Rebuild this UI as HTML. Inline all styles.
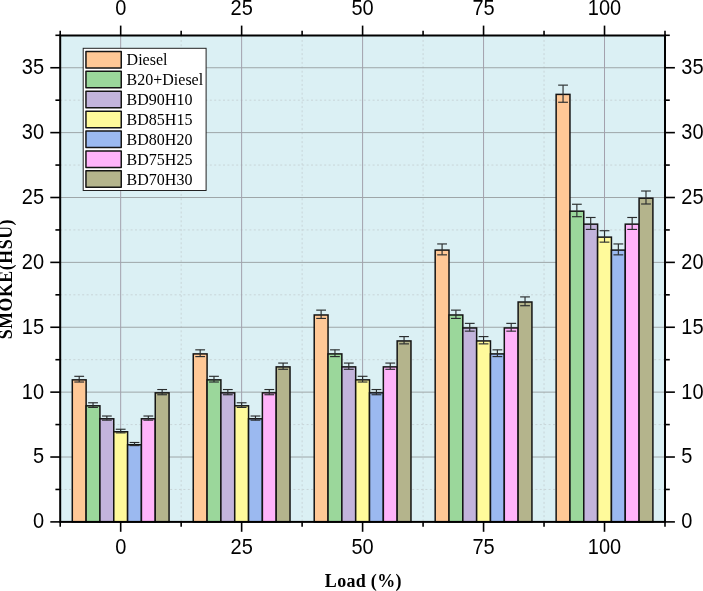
<!DOCTYPE html>
<html><head><meta charset="utf-8"><title>SMOKE chart</title>
<style>html,body{margin:0;padding:0;background:#fff;}body{width:703px;height:591px;overflow:hidden;}svg{display:block;}</style>
</head><body>
<svg width="703" height="591" viewBox="0 0 703 591">
<rect x="0" y="0" width="703" height="591" fill="#ffffff"/>
<rect x="60.2" y="35.5" width="604.80" height="486.40" fill="#DBF0F4"/>
<line x1="60.2" x2="665.0" y1="489.46" y2="489.46" stroke="#C8D5D8" stroke-width="1" stroke-dasharray="2 2.4"/>
<line x1="60.2" x2="665.0" y1="424.58" y2="424.58" stroke="#C8D5D8" stroke-width="1" stroke-dasharray="2 2.4"/>
<line x1="60.2" x2="665.0" y1="359.70" y2="359.70" stroke="#C8D5D8" stroke-width="1" stroke-dasharray="2 2.4"/>
<line x1="60.2" x2="665.0" y1="294.82" y2="294.82" stroke="#C8D5D8" stroke-width="1" stroke-dasharray="2 2.4"/>
<line x1="60.2" x2="665.0" y1="229.94" y2="229.94" stroke="#C8D5D8" stroke-width="1" stroke-dasharray="2 2.4"/>
<line x1="60.2" x2="665.0" y1="165.06" y2="165.06" stroke="#C8D5D8" stroke-width="1" stroke-dasharray="2 2.4"/>
<line x1="60.2" x2="665.0" y1="100.18" y2="100.18" stroke="#C8D5D8" stroke-width="1" stroke-dasharray="2 2.4"/>
<line x1="181.16" x2="181.16" y1="35.5" y2="521.9" stroke="#C8D5D8" stroke-width="1" stroke-dasharray="2 2.4"/>
<line x1="302.12" x2="302.12" y1="35.5" y2="521.9" stroke="#C8D5D8" stroke-width="1" stroke-dasharray="2 2.4"/>
<line x1="423.08" x2="423.08" y1="35.5" y2="521.9" stroke="#C8D5D8" stroke-width="1" stroke-dasharray="2 2.4"/>
<line x1="544.04" x2="544.04" y1="35.5" y2="521.9" stroke="#C8D5D8" stroke-width="1" stroke-dasharray="2 2.4"/>
<line x1="60.2" x2="665.0" y1="457.02" y2="457.02" stroke="#9EA6A8" stroke-width="1"/>
<line x1="60.2" x2="665.0" y1="392.14" y2="392.14" stroke="#9EA6A8" stroke-width="1"/>
<line x1="60.2" x2="665.0" y1="327.26" y2="327.26" stroke="#9EA6A8" stroke-width="1"/>
<line x1="60.2" x2="665.0" y1="262.38" y2="262.38" stroke="#9EA6A8" stroke-width="1"/>
<line x1="60.2" x2="665.0" y1="197.50" y2="197.50" stroke="#9EA6A8" stroke-width="1"/>
<line x1="60.2" x2="665.0" y1="132.62" y2="132.62" stroke="#9EA6A8" stroke-width="1"/>
<line x1="60.2" x2="665.0" y1="67.74" y2="67.74" stroke="#9EA6A8" stroke-width="1"/>
<line x1="120.68" x2="120.68" y1="35.5" y2="521.9" stroke="#A2A0AC" stroke-width="1"/>
<line x1="241.64" x2="241.64" y1="35.5" y2="521.9" stroke="#A2A0AC" stroke-width="1"/>
<line x1="362.60" x2="362.60" y1="35.5" y2="521.9" stroke="#A2A0AC" stroke-width="1"/>
<line x1="483.56" x2="483.56" y1="35.5" y2="521.9" stroke="#A2A0AC" stroke-width="1"/>
<line x1="604.52" x2="604.52" y1="35.5" y2="521.9" stroke="#A2A0AC" stroke-width="1"/>
<rect x="72.30" y="379.86" width="13.82" height="142.04" fill="#FFC896" stroke="#141414" stroke-width="1.5"/>
<rect x="86.12" y="405.82" width="13.82" height="116.08" fill="#9BD79B" stroke="#141414" stroke-width="1.5"/>
<rect x="99.94" y="418.79" width="13.82" height="103.11" fill="#C3B4DC" stroke="#141414" stroke-width="1.5"/>
<rect x="113.77" y="431.77" width="13.82" height="90.13" fill="#FFFA9B" stroke="#141414" stroke-width="1.5"/>
<rect x="127.59" y="444.74" width="13.82" height="77.16" fill="#9BB9F0" stroke="#141414" stroke-width="1.5"/>
<rect x="141.42" y="418.79" width="13.82" height="103.11" fill="#FFB4FA" stroke="#141414" stroke-width="1.5"/>
<rect x="155.24" y="392.84" width="13.82" height="129.06" fill="#B4B48C" stroke="#141414" stroke-width="1.5"/>
<rect x="193.26" y="353.91" width="13.82" height="167.99" fill="#FFC896" stroke="#141414" stroke-width="1.5"/>
<rect x="207.08" y="379.86" width="13.82" height="142.04" fill="#9BD79B" stroke="#141414" stroke-width="1.5"/>
<rect x="220.90" y="392.84" width="13.82" height="129.06" fill="#C3B4DC" stroke="#141414" stroke-width="1.5"/>
<rect x="234.73" y="405.82" width="13.82" height="116.08" fill="#FFFA9B" stroke="#141414" stroke-width="1.5"/>
<rect x="248.55" y="418.79" width="13.82" height="103.11" fill="#9BB9F0" stroke="#141414" stroke-width="1.5"/>
<rect x="262.38" y="392.84" width="13.82" height="129.06" fill="#FFB4FA" stroke="#141414" stroke-width="1.5"/>
<rect x="276.20" y="366.89" width="13.82" height="155.01" fill="#B4B48C" stroke="#141414" stroke-width="1.5"/>
<rect x="314.22" y="314.98" width="13.82" height="206.92" fill="#FFC896" stroke="#141414" stroke-width="1.5"/>
<rect x="328.04" y="353.91" width="13.82" height="167.99" fill="#9BD79B" stroke="#141414" stroke-width="1.5"/>
<rect x="341.86" y="366.89" width="13.82" height="155.01" fill="#C3B4DC" stroke="#141414" stroke-width="1.5"/>
<rect x="355.69" y="379.86" width="13.82" height="142.04" fill="#FFFA9B" stroke="#141414" stroke-width="1.5"/>
<rect x="369.51" y="392.84" width="13.82" height="129.06" fill="#9BB9F0" stroke="#141414" stroke-width="1.5"/>
<rect x="383.34" y="366.89" width="13.82" height="155.01" fill="#FFB4FA" stroke="#141414" stroke-width="1.5"/>
<rect x="397.16" y="340.94" width="13.82" height="180.96" fill="#B4B48C" stroke="#141414" stroke-width="1.5"/>
<rect x="435.18" y="250.10" width="13.82" height="271.80" fill="#FFC896" stroke="#141414" stroke-width="1.5"/>
<rect x="449.00" y="314.98" width="13.82" height="206.92" fill="#9BD79B" stroke="#141414" stroke-width="1.5"/>
<rect x="462.82" y="327.96" width="13.82" height="193.94" fill="#C3B4DC" stroke="#141414" stroke-width="1.5"/>
<rect x="476.65" y="340.94" width="13.82" height="180.96" fill="#FFFA9B" stroke="#141414" stroke-width="1.5"/>
<rect x="490.47" y="353.91" width="13.82" height="167.99" fill="#9BB9F0" stroke="#141414" stroke-width="1.5"/>
<rect x="504.30" y="327.96" width="13.82" height="193.94" fill="#FFB4FA" stroke="#141414" stroke-width="1.5"/>
<rect x="518.12" y="302.01" width="13.82" height="219.89" fill="#B4B48C" stroke="#141414" stroke-width="1.5"/>
<rect x="556.14" y="94.39" width="13.82" height="427.51" fill="#FFC896" stroke="#141414" stroke-width="1.5"/>
<rect x="569.96" y="211.18" width="13.82" height="310.72" fill="#9BD79B" stroke="#141414" stroke-width="1.5"/>
<rect x="583.78" y="224.15" width="13.82" height="297.75" fill="#C3B4DC" stroke="#141414" stroke-width="1.5"/>
<rect x="597.61" y="237.13" width="13.82" height="284.77" fill="#FFFA9B" stroke="#141414" stroke-width="1.5"/>
<rect x="611.43" y="250.10" width="13.82" height="271.80" fill="#9BB9F0" stroke="#141414" stroke-width="1.5"/>
<rect x="625.26" y="224.15" width="13.82" height="297.75" fill="#FFB4FA" stroke="#141414" stroke-width="1.5"/>
<rect x="639.08" y="198.20" width="13.82" height="323.70" fill="#B4B48C" stroke="#141414" stroke-width="1.5"/>
<line x1="79.21" x2="79.21" y1="376.31" y2="382.02" stroke="#2A2D2E" stroke-width="1.15"/>
<line x1="74.31" x2="84.11" y1="376.31" y2="376.31" stroke="#2A2D2E" stroke-width="1.15"/>
<line x1="74.31" x2="84.11" y1="382.02" y2="382.02" stroke="#2A2D2E" stroke-width="1.15"/>
<line x1="93.03" x2="93.03" y1="402.78" y2="407.45" stroke="#2A2D2E" stroke-width="1.15"/>
<line x1="88.13" x2="97.93" y1="402.78" y2="402.78" stroke="#2A2D2E" stroke-width="1.15"/>
<line x1="88.13" x2="97.93" y1="407.45" y2="407.45" stroke="#2A2D2E" stroke-width="1.15"/>
<line x1="106.86" x2="106.86" y1="416.02" y2="420.17" stroke="#2A2D2E" stroke-width="1.15"/>
<line x1="101.96" x2="111.76" y1="416.02" y2="416.02" stroke="#2A2D2E" stroke-width="1.15"/>
<line x1="101.96" x2="111.76" y1="420.17" y2="420.17" stroke="#2A2D2E" stroke-width="1.15"/>
<line x1="120.68" x2="120.68" y1="429.25" y2="432.88" stroke="#2A2D2E" stroke-width="1.15"/>
<line x1="115.78" x2="125.58" y1="429.25" y2="429.25" stroke="#2A2D2E" stroke-width="1.15"/>
<line x1="115.78" x2="125.58" y1="432.88" y2="432.88" stroke="#2A2D2E" stroke-width="1.15"/>
<line x1="134.50" x2="134.50" y1="442.49" y2="445.60" stroke="#2A2D2E" stroke-width="1.15"/>
<line x1="129.60" x2="139.40" y1="442.49" y2="442.49" stroke="#2A2D2E" stroke-width="1.15"/>
<line x1="129.60" x2="139.40" y1="445.60" y2="445.60" stroke="#2A2D2E" stroke-width="1.15"/>
<line x1="148.33" x2="148.33" y1="416.02" y2="420.17" stroke="#2A2D2E" stroke-width="1.15"/>
<line x1="143.43" x2="153.23" y1="416.02" y2="416.02" stroke="#2A2D2E" stroke-width="1.15"/>
<line x1="143.43" x2="153.23" y1="420.17" y2="420.17" stroke="#2A2D2E" stroke-width="1.15"/>
<line x1="162.15" x2="162.15" y1="389.54" y2="394.74" stroke="#2A2D2E" stroke-width="1.15"/>
<line x1="157.25" x2="167.05" y1="389.54" y2="389.54" stroke="#2A2D2E" stroke-width="1.15"/>
<line x1="157.25" x2="167.05" y1="394.74" y2="394.74" stroke="#2A2D2E" stroke-width="1.15"/>
<line x1="200.17" x2="200.17" y1="349.84" y2="356.59" stroke="#2A2D2E" stroke-width="1.15"/>
<line x1="195.27" x2="205.07" y1="349.84" y2="349.84" stroke="#2A2D2E" stroke-width="1.15"/>
<line x1="195.27" x2="205.07" y1="356.59" y2="356.59" stroke="#2A2D2E" stroke-width="1.15"/>
<line x1="213.99" x2="213.99" y1="376.31" y2="382.02" stroke="#2A2D2E" stroke-width="1.15"/>
<line x1="209.09" x2="218.89" y1="376.31" y2="376.31" stroke="#2A2D2E" stroke-width="1.15"/>
<line x1="209.09" x2="218.89" y1="382.02" y2="382.02" stroke="#2A2D2E" stroke-width="1.15"/>
<line x1="227.82" x2="227.82" y1="389.54" y2="394.74" stroke="#2A2D2E" stroke-width="1.15"/>
<line x1="222.92" x2="232.72" y1="389.54" y2="389.54" stroke="#2A2D2E" stroke-width="1.15"/>
<line x1="222.92" x2="232.72" y1="394.74" y2="394.74" stroke="#2A2D2E" stroke-width="1.15"/>
<line x1="241.64" x2="241.64" y1="402.78" y2="407.45" stroke="#2A2D2E" stroke-width="1.15"/>
<line x1="236.74" x2="246.54" y1="402.78" y2="402.78" stroke="#2A2D2E" stroke-width="1.15"/>
<line x1="236.74" x2="246.54" y1="407.45" y2="407.45" stroke="#2A2D2E" stroke-width="1.15"/>
<line x1="255.46" x2="255.46" y1="416.02" y2="420.17" stroke="#2A2D2E" stroke-width="1.15"/>
<line x1="250.56" x2="260.36" y1="416.02" y2="416.02" stroke="#2A2D2E" stroke-width="1.15"/>
<line x1="250.56" x2="260.36" y1="420.17" y2="420.17" stroke="#2A2D2E" stroke-width="1.15"/>
<line x1="269.29" x2="269.29" y1="389.54" y2="394.74" stroke="#2A2D2E" stroke-width="1.15"/>
<line x1="264.39" x2="274.19" y1="389.54" y2="389.54" stroke="#2A2D2E" stroke-width="1.15"/>
<line x1="264.39" x2="274.19" y1="394.74" y2="394.74" stroke="#2A2D2E" stroke-width="1.15"/>
<line x1="283.11" x2="283.11" y1="363.07" y2="369.30" stroke="#2A2D2E" stroke-width="1.15"/>
<line x1="278.21" x2="288.01" y1="363.07" y2="363.07" stroke="#2A2D2E" stroke-width="1.15"/>
<line x1="278.21" x2="288.01" y1="369.30" y2="369.30" stroke="#2A2D2E" stroke-width="1.15"/>
<line x1="321.13" x2="321.13" y1="310.13" y2="318.44" stroke="#2A2D2E" stroke-width="1.15"/>
<line x1="316.23" x2="326.03" y1="310.13" y2="310.13" stroke="#2A2D2E" stroke-width="1.15"/>
<line x1="316.23" x2="326.03" y1="318.44" y2="318.44" stroke="#2A2D2E" stroke-width="1.15"/>
<line x1="334.95" x2="334.95" y1="349.84" y2="356.59" stroke="#2A2D2E" stroke-width="1.15"/>
<line x1="330.05" x2="339.85" y1="349.84" y2="349.84" stroke="#2A2D2E" stroke-width="1.15"/>
<line x1="330.05" x2="339.85" y1="356.59" y2="356.59" stroke="#2A2D2E" stroke-width="1.15"/>
<line x1="348.78" x2="348.78" y1="363.07" y2="369.30" stroke="#2A2D2E" stroke-width="1.15"/>
<line x1="343.88" x2="353.68" y1="363.07" y2="363.07" stroke="#2A2D2E" stroke-width="1.15"/>
<line x1="343.88" x2="353.68" y1="369.30" y2="369.30" stroke="#2A2D2E" stroke-width="1.15"/>
<line x1="362.60" x2="362.60" y1="376.31" y2="382.02" stroke="#2A2D2E" stroke-width="1.15"/>
<line x1="357.70" x2="367.50" y1="376.31" y2="376.31" stroke="#2A2D2E" stroke-width="1.15"/>
<line x1="357.70" x2="367.50" y1="382.02" y2="382.02" stroke="#2A2D2E" stroke-width="1.15"/>
<line x1="376.42" x2="376.42" y1="389.54" y2="394.74" stroke="#2A2D2E" stroke-width="1.15"/>
<line x1="371.52" x2="381.32" y1="389.54" y2="389.54" stroke="#2A2D2E" stroke-width="1.15"/>
<line x1="371.52" x2="381.32" y1="394.74" y2="394.74" stroke="#2A2D2E" stroke-width="1.15"/>
<line x1="390.25" x2="390.25" y1="363.07" y2="369.30" stroke="#2A2D2E" stroke-width="1.15"/>
<line x1="385.35" x2="395.15" y1="363.07" y2="363.07" stroke="#2A2D2E" stroke-width="1.15"/>
<line x1="385.35" x2="395.15" y1="369.30" y2="369.30" stroke="#2A2D2E" stroke-width="1.15"/>
<line x1="404.07" x2="404.07" y1="336.60" y2="343.87" stroke="#2A2D2E" stroke-width="1.15"/>
<line x1="399.17" x2="408.97" y1="336.60" y2="336.60" stroke="#2A2D2E" stroke-width="1.15"/>
<line x1="399.17" x2="408.97" y1="343.87" y2="343.87" stroke="#2A2D2E" stroke-width="1.15"/>
<line x1="442.09" x2="442.09" y1="243.95" y2="254.85" stroke="#2A2D2E" stroke-width="1.15"/>
<line x1="437.19" x2="446.99" y1="243.95" y2="243.95" stroke="#2A2D2E" stroke-width="1.15"/>
<line x1="437.19" x2="446.99" y1="254.85" y2="254.85" stroke="#2A2D2E" stroke-width="1.15"/>
<line x1="455.91" x2="455.91" y1="310.13" y2="318.44" stroke="#2A2D2E" stroke-width="1.15"/>
<line x1="451.01" x2="460.81" y1="310.13" y2="310.13" stroke="#2A2D2E" stroke-width="1.15"/>
<line x1="451.01" x2="460.81" y1="318.44" y2="318.44" stroke="#2A2D2E" stroke-width="1.15"/>
<line x1="469.74" x2="469.74" y1="323.37" y2="331.15" stroke="#2A2D2E" stroke-width="1.15"/>
<line x1="464.84" x2="474.64" y1="323.37" y2="323.37" stroke="#2A2D2E" stroke-width="1.15"/>
<line x1="464.84" x2="474.64" y1="331.15" y2="331.15" stroke="#2A2D2E" stroke-width="1.15"/>
<line x1="483.56" x2="483.56" y1="336.60" y2="343.87" stroke="#2A2D2E" stroke-width="1.15"/>
<line x1="478.66" x2="488.46" y1="336.60" y2="336.60" stroke="#2A2D2E" stroke-width="1.15"/>
<line x1="478.66" x2="488.46" y1="343.87" y2="343.87" stroke="#2A2D2E" stroke-width="1.15"/>
<line x1="497.38" x2="497.38" y1="349.84" y2="356.59" stroke="#2A2D2E" stroke-width="1.15"/>
<line x1="492.48" x2="502.28" y1="349.84" y2="349.84" stroke="#2A2D2E" stroke-width="1.15"/>
<line x1="492.48" x2="502.28" y1="356.59" y2="356.59" stroke="#2A2D2E" stroke-width="1.15"/>
<line x1="511.21" x2="511.21" y1="323.37" y2="331.15" stroke="#2A2D2E" stroke-width="1.15"/>
<line x1="506.31" x2="516.11" y1="323.37" y2="323.37" stroke="#2A2D2E" stroke-width="1.15"/>
<line x1="506.31" x2="516.11" y1="331.15" y2="331.15" stroke="#2A2D2E" stroke-width="1.15"/>
<line x1="525.03" x2="525.03" y1="296.90" y2="305.72" stroke="#2A2D2E" stroke-width="1.15"/>
<line x1="520.13" x2="529.93" y1="296.90" y2="296.90" stroke="#2A2D2E" stroke-width="1.15"/>
<line x1="520.13" x2="529.93" y1="305.72" y2="305.72" stroke="#2A2D2E" stroke-width="1.15"/>
<line x1="563.05" x2="563.05" y1="85.13" y2="102.26" stroke="#2A2D2E" stroke-width="1.15"/>
<line x1="558.15" x2="567.95" y1="85.13" y2="85.13" stroke="#2A2D2E" stroke-width="1.15"/>
<line x1="558.15" x2="567.95" y1="102.26" y2="102.26" stroke="#2A2D2E" stroke-width="1.15"/>
<line x1="576.87" x2="576.87" y1="204.25" y2="216.70" stroke="#2A2D2E" stroke-width="1.15"/>
<line x1="571.97" x2="581.77" y1="204.25" y2="204.25" stroke="#2A2D2E" stroke-width="1.15"/>
<line x1="571.97" x2="581.77" y1="216.70" y2="216.70" stroke="#2A2D2E" stroke-width="1.15"/>
<line x1="590.70" x2="590.70" y1="217.48" y2="229.42" stroke="#2A2D2E" stroke-width="1.15"/>
<line x1="585.80" x2="595.60" y1="217.48" y2="217.48" stroke="#2A2D2E" stroke-width="1.15"/>
<line x1="585.80" x2="595.60" y1="229.42" y2="229.42" stroke="#2A2D2E" stroke-width="1.15"/>
<line x1="604.52" x2="604.52" y1="230.72" y2="242.14" stroke="#2A2D2E" stroke-width="1.15"/>
<line x1="599.62" x2="609.42" y1="230.72" y2="230.72" stroke="#2A2D2E" stroke-width="1.15"/>
<line x1="599.62" x2="609.42" y1="242.14" y2="242.14" stroke="#2A2D2E" stroke-width="1.15"/>
<line x1="618.34" x2="618.34" y1="243.95" y2="254.85" stroke="#2A2D2E" stroke-width="1.15"/>
<line x1="613.44" x2="623.24" y1="243.95" y2="243.95" stroke="#2A2D2E" stroke-width="1.15"/>
<line x1="613.44" x2="623.24" y1="254.85" y2="254.85" stroke="#2A2D2E" stroke-width="1.15"/>
<line x1="632.17" x2="632.17" y1="217.48" y2="229.42" stroke="#2A2D2E" stroke-width="1.15"/>
<line x1="627.27" x2="637.07" y1="217.48" y2="217.48" stroke="#2A2D2E" stroke-width="1.15"/>
<line x1="627.27" x2="637.07" y1="229.42" y2="229.42" stroke="#2A2D2E" stroke-width="1.15"/>
<line x1="645.99" x2="645.99" y1="191.01" y2="203.99" stroke="#2A2D2E" stroke-width="1.15"/>
<line x1="641.09" x2="650.89" y1="191.01" y2="191.01" stroke="#2A2D2E" stroke-width="1.15"/>
<line x1="641.09" x2="650.89" y1="203.99" y2="203.99" stroke="#2A2D2E" stroke-width="1.15"/>
<rect x="60.2" y="35.5" width="604.80" height="486.40" fill="none" stroke="#000" stroke-width="2"/>
<line x1="50.30" x2="60.2" y1="521.90" y2="521.90" stroke="#000" stroke-width="1.6"/>
<line x1="665.0" x2="674.90" y1="521.90" y2="521.90" stroke="#000" stroke-width="1.6"/>
<line x1="55.40" x2="60.2" y1="489.46" y2="489.46" stroke="#000" stroke-width="1.6"/>
<line x1="665.0" x2="669.80" y1="489.46" y2="489.46" stroke="#000" stroke-width="1.6"/>
<line x1="50.30" x2="60.2" y1="457.02" y2="457.02" stroke="#000" stroke-width="1.6"/>
<line x1="665.0" x2="674.90" y1="457.02" y2="457.02" stroke="#000" stroke-width="1.6"/>
<line x1="55.40" x2="60.2" y1="424.58" y2="424.58" stroke="#000" stroke-width="1.6"/>
<line x1="665.0" x2="669.80" y1="424.58" y2="424.58" stroke="#000" stroke-width="1.6"/>
<line x1="50.30" x2="60.2" y1="392.14" y2="392.14" stroke="#000" stroke-width="1.6"/>
<line x1="665.0" x2="674.90" y1="392.14" y2="392.14" stroke="#000" stroke-width="1.6"/>
<line x1="55.40" x2="60.2" y1="359.70" y2="359.70" stroke="#000" stroke-width="1.6"/>
<line x1="665.0" x2="669.80" y1="359.70" y2="359.70" stroke="#000" stroke-width="1.6"/>
<line x1="50.30" x2="60.2" y1="327.26" y2="327.26" stroke="#000" stroke-width="1.6"/>
<line x1="665.0" x2="674.90" y1="327.26" y2="327.26" stroke="#000" stroke-width="1.6"/>
<line x1="55.40" x2="60.2" y1="294.82" y2="294.82" stroke="#000" stroke-width="1.6"/>
<line x1="665.0" x2="669.80" y1="294.82" y2="294.82" stroke="#000" stroke-width="1.6"/>
<line x1="50.30" x2="60.2" y1="262.38" y2="262.38" stroke="#000" stroke-width="1.6"/>
<line x1="665.0" x2="674.90" y1="262.38" y2="262.38" stroke="#000" stroke-width="1.6"/>
<line x1="55.40" x2="60.2" y1="229.94" y2="229.94" stroke="#000" stroke-width="1.6"/>
<line x1="665.0" x2="669.80" y1="229.94" y2="229.94" stroke="#000" stroke-width="1.6"/>
<line x1="50.30" x2="60.2" y1="197.50" y2="197.50" stroke="#000" stroke-width="1.6"/>
<line x1="665.0" x2="674.90" y1="197.50" y2="197.50" stroke="#000" stroke-width="1.6"/>
<line x1="55.40" x2="60.2" y1="165.06" y2="165.06" stroke="#000" stroke-width="1.6"/>
<line x1="665.0" x2="669.80" y1="165.06" y2="165.06" stroke="#000" stroke-width="1.6"/>
<line x1="50.30" x2="60.2" y1="132.62" y2="132.62" stroke="#000" stroke-width="1.6"/>
<line x1="665.0" x2="674.90" y1="132.62" y2="132.62" stroke="#000" stroke-width="1.6"/>
<line x1="55.40" x2="60.2" y1="100.18" y2="100.18" stroke="#000" stroke-width="1.6"/>
<line x1="665.0" x2="669.80" y1="100.18" y2="100.18" stroke="#000" stroke-width="1.6"/>
<line x1="50.30" x2="60.2" y1="67.74" y2="67.74" stroke="#000" stroke-width="1.6"/>
<line x1="665.0" x2="674.90" y1="67.74" y2="67.74" stroke="#000" stroke-width="1.6"/>
<line x1="55.40" x2="60.2" y1="35.30" y2="35.30" stroke="#000" stroke-width="1.6"/>
<line x1="665.0" x2="669.80" y1="35.30" y2="35.30" stroke="#000" stroke-width="1.6"/>
<line x1="60.20" x2="60.20" y1="521.9" y2="526.70" stroke="#000" stroke-width="1.6"/>
<line x1="60.20" x2="60.20" y1="30.70" y2="35.5" stroke="#000" stroke-width="1.6"/>
<line x1="120.68" x2="120.68" y1="521.9" y2="531.80" stroke="#000" stroke-width="1.6"/>
<line x1="120.68" x2="120.68" y1="25.60" y2="35.5" stroke="#000" stroke-width="1.6"/>
<line x1="181.16" x2="181.16" y1="521.9" y2="526.70" stroke="#000" stroke-width="1.6"/>
<line x1="181.16" x2="181.16" y1="30.70" y2="35.5" stroke="#000" stroke-width="1.6"/>
<line x1="241.64" x2="241.64" y1="521.9" y2="531.80" stroke="#000" stroke-width="1.6"/>
<line x1="241.64" x2="241.64" y1="25.60" y2="35.5" stroke="#000" stroke-width="1.6"/>
<line x1="302.12" x2="302.12" y1="521.9" y2="526.70" stroke="#000" stroke-width="1.6"/>
<line x1="302.12" x2="302.12" y1="30.70" y2="35.5" stroke="#000" stroke-width="1.6"/>
<line x1="362.60" x2="362.60" y1="521.9" y2="531.80" stroke="#000" stroke-width="1.6"/>
<line x1="362.60" x2="362.60" y1="25.60" y2="35.5" stroke="#000" stroke-width="1.6"/>
<line x1="423.08" x2="423.08" y1="521.9" y2="526.70" stroke="#000" stroke-width="1.6"/>
<line x1="423.08" x2="423.08" y1="30.70" y2="35.5" stroke="#000" stroke-width="1.6"/>
<line x1="483.56" x2="483.56" y1="521.9" y2="531.80" stroke="#000" stroke-width="1.6"/>
<line x1="483.56" x2="483.56" y1="25.60" y2="35.5" stroke="#000" stroke-width="1.6"/>
<line x1="544.04" x2="544.04" y1="521.9" y2="526.70" stroke="#000" stroke-width="1.6"/>
<line x1="544.04" x2="544.04" y1="30.70" y2="35.5" stroke="#000" stroke-width="1.6"/>
<line x1="604.52" x2="604.52" y1="521.9" y2="531.80" stroke="#000" stroke-width="1.6"/>
<line x1="604.52" x2="604.52" y1="25.60" y2="35.5" stroke="#000" stroke-width="1.6"/>
<line x1="665.00" x2="665.00" y1="521.9" y2="526.70" stroke="#000" stroke-width="1.6"/>
<line x1="665.00" x2="665.00" y1="30.70" y2="35.5" stroke="#000" stroke-width="1.6"/>
<text transform="translate(44.00,520.95) scale(1,1.07)" x="0" y="6.92" font-family="'Liberation Sans', Arial, sans-serif" font-size="20" text-anchor="end">0</text>
<text transform="translate(681.30,520.95) scale(1,1.07)" x="0" y="6.92" font-family="'Liberation Sans', Arial, sans-serif" font-size="20" text-anchor="start">0</text>
<text transform="translate(44.00,456.07) scale(1,1.07)" x="0" y="6.92" font-family="'Liberation Sans', Arial, sans-serif" font-size="20" text-anchor="end">5</text>
<text transform="translate(681.30,456.07) scale(1,1.07)" x="0" y="6.92" font-family="'Liberation Sans', Arial, sans-serif" font-size="20" text-anchor="start">5</text>
<text transform="translate(44.00,391.19) scale(1,1.07)" x="0" y="6.92" font-family="'Liberation Sans', Arial, sans-serif" font-size="20" text-anchor="end">10</text>
<text transform="translate(681.30,391.19) scale(1,1.07)" x="0" y="6.92" font-family="'Liberation Sans', Arial, sans-serif" font-size="20" text-anchor="start">10</text>
<text transform="translate(44.00,326.31) scale(1,1.07)" x="0" y="6.92" font-family="'Liberation Sans', Arial, sans-serif" font-size="20" text-anchor="end">15</text>
<text transform="translate(681.30,326.31) scale(1,1.07)" x="0" y="6.92" font-family="'Liberation Sans', Arial, sans-serif" font-size="20" text-anchor="start">15</text>
<text transform="translate(44.00,261.43) scale(1,1.07)" x="0" y="6.92" font-family="'Liberation Sans', Arial, sans-serif" font-size="20" text-anchor="end">20</text>
<text transform="translate(681.30,261.43) scale(1,1.07)" x="0" y="6.92" font-family="'Liberation Sans', Arial, sans-serif" font-size="20" text-anchor="start">20</text>
<text transform="translate(44.00,196.55) scale(1,1.07)" x="0" y="6.92" font-family="'Liberation Sans', Arial, sans-serif" font-size="20" text-anchor="end">25</text>
<text transform="translate(681.30,196.55) scale(1,1.07)" x="0" y="6.92" font-family="'Liberation Sans', Arial, sans-serif" font-size="20" text-anchor="start">25</text>
<text transform="translate(44.00,131.67) scale(1,1.07)" x="0" y="6.92" font-family="'Liberation Sans', Arial, sans-serif" font-size="20" text-anchor="end">30</text>
<text transform="translate(681.30,131.67) scale(1,1.07)" x="0" y="6.92" font-family="'Liberation Sans', Arial, sans-serif" font-size="20" text-anchor="start">30</text>
<text transform="translate(44.00,66.79) scale(1,1.07)" x="0" y="6.92" font-family="'Liberation Sans', Arial, sans-serif" font-size="20" text-anchor="end">35</text>
<text transform="translate(681.30,66.79) scale(1,1.07)" x="0" y="6.92" font-family="'Liberation Sans', Arial, sans-serif" font-size="20" text-anchor="start">35</text>
<text transform="translate(120.68,546.50) scale(1,1.07)" x="0" y="6.92" font-family="'Liberation Sans', Arial, sans-serif" font-size="20" text-anchor="middle">0</text>
<text transform="translate(120.68,7.50) scale(1,1.07)" x="0" y="6.92" font-family="'Liberation Sans', Arial, sans-serif" font-size="20" text-anchor="middle">0</text>
<text transform="translate(241.64,546.50) scale(1,1.07)" x="0" y="6.92" font-family="'Liberation Sans', Arial, sans-serif" font-size="20" text-anchor="middle">25</text>
<text transform="translate(241.64,7.50) scale(1,1.07)" x="0" y="6.92" font-family="'Liberation Sans', Arial, sans-serif" font-size="20" text-anchor="middle">25</text>
<text transform="translate(362.60,546.50) scale(1,1.07)" x="0" y="6.92" font-family="'Liberation Sans', Arial, sans-serif" font-size="20" text-anchor="middle">50</text>
<text transform="translate(362.60,7.50) scale(1,1.07)" x="0" y="6.92" font-family="'Liberation Sans', Arial, sans-serif" font-size="20" text-anchor="middle">50</text>
<text transform="translate(483.56,546.50) scale(1,1.07)" x="0" y="6.92" font-family="'Liberation Sans', Arial, sans-serif" font-size="20" text-anchor="middle">75</text>
<text transform="translate(483.56,7.50) scale(1,1.07)" x="0" y="6.92" font-family="'Liberation Sans', Arial, sans-serif" font-size="20" text-anchor="middle">75</text>
<text transform="translate(604.52,546.50) scale(1,1.07)" x="0" y="6.92" font-family="'Liberation Sans', Arial, sans-serif" font-size="20" text-anchor="middle">100</text>
<text transform="translate(604.52,7.50) scale(1,1.07)" x="0" y="6.92" font-family="'Liberation Sans', Arial, sans-serif" font-size="20" text-anchor="middle">100</text>
<text x="363.3" y="586.9" font-family="'Liberation Serif', 'Times New Roman', serif" font-size="18" letter-spacing="0.3" font-weight="bold" text-anchor="middle">Load (%)</text>
<text transform="translate(11.8,279.1) rotate(-90)" x="0" y="0" font-family="'Liberation Serif', 'Times New Roman', serif" font-size="17.8" letter-spacing="0.58" font-weight="bold" text-anchor="middle">SMOKE(HSU)</text>
<rect x="83.2" y="48.3" width="122.9" height="142.2" fill="#fff" stroke="#222" stroke-width="1"/>
<rect x="85.95" y="51.45" width="35.3" height="16.5" fill="#FFC896" stroke="#141414" stroke-width="1.5" stroke-linejoin="round"/>
<text transform="translate(126.6,65.20) scale(1,1)" x="0" y="0" font-family="'Liberation Serif', 'Times New Roman', serif" font-size="16">Diesel</text>
<rect x="85.95" y="71.35" width="35.3" height="16.5" fill="#9BD79B" stroke="#141414" stroke-width="1.5" stroke-linejoin="round"/>
<text transform="translate(126.6,85.10) scale(1,1)" x="0" y="0" font-family="'Liberation Serif', 'Times New Roman', serif" font-size="16">B20+Diesel</text>
<rect x="85.95" y="91.25" width="35.3" height="16.5" fill="#C3B4DC" stroke="#141414" stroke-width="1.5" stroke-linejoin="round"/>
<text transform="translate(126.6,105.00) scale(1,1)" x="0" y="0" font-family="'Liberation Serif', 'Times New Roman', serif" font-size="16">BD90H10</text>
<rect x="85.95" y="111.15" width="35.3" height="16.5" fill="#FFFA9B" stroke="#141414" stroke-width="1.5" stroke-linejoin="round"/>
<text transform="translate(126.6,124.90) scale(1,1)" x="0" y="0" font-family="'Liberation Serif', 'Times New Roman', serif" font-size="16">BD85H15</text>
<rect x="85.95" y="131.05" width="35.3" height="16.5" fill="#9BB9F0" stroke="#141414" stroke-width="1.5" stroke-linejoin="round"/>
<text transform="translate(126.6,144.80) scale(1,1)" x="0" y="0" font-family="'Liberation Serif', 'Times New Roman', serif" font-size="16">BD80H20</text>
<rect x="85.95" y="150.95" width="35.3" height="16.5" fill="#FFB4FA" stroke="#141414" stroke-width="1.5" stroke-linejoin="round"/>
<text transform="translate(126.6,164.70) scale(1,1)" x="0" y="0" font-family="'Liberation Serif', 'Times New Roman', serif" font-size="16">BD75H25</text>
<rect x="85.95" y="170.85" width="35.3" height="16.5" fill="#B4B48C" stroke="#141414" stroke-width="1.5" stroke-linejoin="round"/>
<text transform="translate(126.6,184.60) scale(1,1)" x="0" y="0" font-family="'Liberation Serif', 'Times New Roman', serif" font-size="16">BD70H30</text>
</svg>
</body></html>
